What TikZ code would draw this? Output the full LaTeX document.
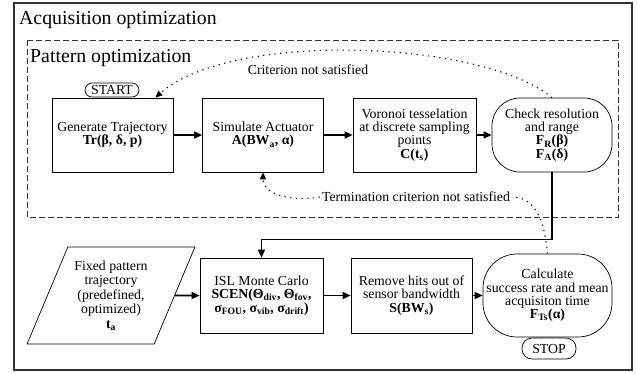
\documentclass[tikz,border=0pt]{standalone}
\usepackage{fontspec}
\setmainfont{Liberation Serif}
\usetikzlibrary{arrows.meta, shapes.geometric}
\newcommand{\lo}[1]{\textsubscript{#1}}

\begin{document}
\begin{tikzpicture}[x=1pt, y=-1pt,
	every node/.style={font=\fontsize{13.8}{13.3}\selectfont, align=center, inner sep=1pt},
	block/.style={draw, line width=0.7pt, minimum width=121pt, minimum height=74pt},
	decide/.style={block, rounded corners=28pt},
	term/.style={draw, line width=0.7pt, rounded corners=7pt, minimum width=54pt, inner sep=2pt},
	flow/.style={line width=1.6pt, -{Triangle[length=8pt, width=7pt]}},
	retry/.style={line width=1.1pt, dash pattern=on 1.2pt off 4.5pt, -{Triangle[length=7pt, width=6pt]}}]
	\useasboundingbox (0,0) rectangle (637,373);
	\draw[line width=1.4pt, black!80] (14,3) rectangle (632,370);
	\draw[line width=1pt, black!80, dash pattern=on 6pt off 3pt] (27,40) rectangle (618,217);
	\node[anchor=west, font=\fontsize{19.8}{22}\selectfont] (acq) at (18,20) {Acquisition optimization};
	\node[anchor=west, font=\fontsize{19.8}{22}\selectfont] (pat) at (29,58) {Pattern optimization};

	\node[block] (gen) at (112.5,135) {Generate Trajectory\\ \textbf{Tr(β, δ, p)}};
	\node[block] (sim) at (263,135) {Simulate Actuator\\ \textbf{A(BW\lo{a}, α)}};
	\node[block, minimum width=123pt] (vor) at (414.5,135) {Voronoi tesselation\\ at discrete sampling\\ points\\ \textbf{C(t\lo{s})}};
	\node[decide, minimum width=120pt] (chk) at (552,135) {Check resolution\\ and range\\ \textbf{F\lo{R}(β)}\\ \textbf{F\lo{A}(δ)}};
	\node[term, minimum height=14pt] (start) at (112,90) {START};

	\node[draw, line width=0.7pt, trapezium, trapezium left angle=63.7, trapezium right angle=116.3,
		trapezium stretches=true, minimum width=168pt, minimum height=97pt,
		font=\fontsize{13.8}{14.5}\selectfont] (fixed) at (111,295.5)
		{Fixed pattern\\ trajectory\\ (predefined,\\ optimized)\\ \textbf{t\lo{a}}};
	\node[block, minimum width=123pt, minimum height=75pt] (isl) at (261.5,295.5)
		{ISL Monte Carlo\\ \textbf{SCEN(Θ\lo{div}, Θ\lo{fov},}\\ \textbf{σ\lo{FOU}, σ\lo{vib}, σ\lo{drift})}};
	\node[block, minimum height=75pt] (rem) at (411.5,295.5) {Remove hits out of\\ sensor bandwidth\\ \textbf{S(BW\lo{s})}};
	\node[decide, minimum width=129pt, minimum height=83pt, rounded corners=34pt] (calc) at (547.5,295.5)
		{Calculate\\ success rate and mean\\ acquisiton time\\ \textbf{F\lo{Ts}(α)}};
	\node[term, minimum height=21pt, rounded corners=10pt] (stop) at (549,348.5) {STOP};

	\draw[flow] (gen) -- (sim);
	\draw[flow] (sim) -- (vor);
	\draw[flow] (vor) -- (chk);
	\draw[flow] (chk.south) -- ++(0,67) -| (isl.north);
	\draw[flow] (fixed.east) -- (isl.west);
	\draw[flow] (isl) -- (rem);
	\draw[flow] (rem) -- (calc);

	\node (critlbl) at (308,70) {Criterion not satisfied};
	\draw[retry] (chk.north) .. controls +(-70,-58) and +(75,-67) .. ([xshift=-18pt]gen.north east);
	\node[inner sep=2pt] (termlbl) at (416,197) {Termination criterion not satisfied};
	\draw[retry] (calc.north) to[out=95, in=0] (termlbl.east) (termlbl.west) to[out=190, in=270] (sim.south);
\end{tikzpicture}
\end{document}
